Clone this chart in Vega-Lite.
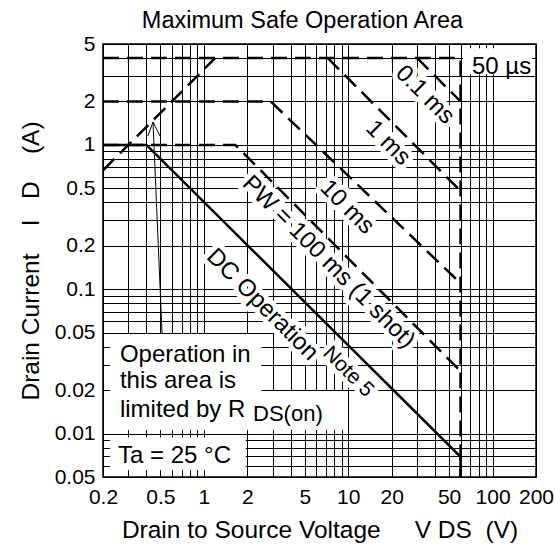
{
  "$schema": "https://vega.github.io/schema/vega-lite/v6.json",
  "width": 433,
  "height": 433,
  "autosize": {"type": "none"},
  "padding": {"left": 103, "top": 44, "right": 19, "bottom": 77},
  "background": "white",
  "config": {
    "view": {"stroke": "black", "strokeWidth": 1.5},
    "font": "Liberation Sans",
    "text": {"font": "Liberation Sans", "color": "black"}
  },
  "title": {
    "text": "Maximum Safe Operation Area",
    "font": "Liberation Sans",
    "fontSize": 23.5,
    "fontWeight": "normal",
    "color": "black",
    "anchor": "middle",
    "frame": "group",
    "dx": -17,
    "dy": 32,
    "offset": 9,
    "baseline": "bottom"
  },
  "datasets": {
    "curves": [
      {"s": "rds", "o": 1, "v": 0.2, "i": 0.667},
      {"s": "rds", "o": 2, "v": 1.2, "i": 4},
      {"s": "us50", "o": 1, "v": 0.2, "i": 4},
      {"s": "us50", "o": 2, "v": 60, "i": 4},
      {"s": "us50", "o": 3, "v": 60, "i": 0.005},
      {"s": "ms01", "o": 1, "v": 30, "i": 4},
      {"s": "ms01", "o": 2, "v": 60, "i": 2},
      {"s": "ms1", "o": 1, "v": 7.2, "i": 4},
      {"s": "ms1", "o": 2, "v": 60, "i": 0.48},
      {"s": "ms10", "o": 1, "v": 0.2, "i": 2},
      {"s": "ms10", "o": 2, "v": 2.9, "i": 2},
      {"s": "ms10", "o": 3, "v": 60, "i": 0.11},
      {"s": "ms100", "o": 1, "v": 0.2, "i": 1},
      {"s": "ms100", "o": 2, "v": 1.65, "i": 1},
      {"s": "ms100", "o": 3, "v": 60, "i": 0.027},
      {"s": "dc", "o": 1, "v": 0.2, "i": 1},
      {"s": "dc", "o": 2, "v": 0.4, "i": 1},
      {"s": "dc", "o": 3, "v": 60, "i": 0.0069},
      {"s": "dc", "o": 4, "v": 60, "i": 0.005},
      {"s": "arrow", "o": 1, "v": 0.513, "i": 0.0497},
      {"s": "arrow", "o": 2, "v": 0.444, "i": 1.44},
      {"s": "arrowhead", "o": 1, "v": 0.409, "i": 1.15},
      {"s": "arrowhead", "o": 2, "v": 0.444, "i": 1.44},
      {"s": "arrowhead", "o": 3, "v": 0.497, "i": 1.15}
    ],
    "masks": [
      {"v": 0.224, "v2": 2.5, "i": 0.0106, "i2": 0.049},
      {"v": 2.5, "v2": 9.8, "i": 0.0106, "i2": 0.0197},
      {"v": 0.224, "v2": 1.95, "i": 0.0056, "i2": 0.0094},
      {"v": 62.5, "v2": 188, "i": 3.08, "i2": 4.68}
    ],
    "labels": [
      {"t": "Operation in", "v": 0.262, "i": 0.0313},
      {"t": "this area is", "v": 0.262, "i": 0.0207},
      {"t": "limited by R", "v": 0.262, "i": 0.0131},
      {"t": "DS(on)", "v": 2.19, "i": 0.0122},
      {"t": "Ta = 25 °C", "v": 0.254, "i": 0.00624},
      {"t": "50 µs", "v": 72, "i": 3.08}
    ],
    "rotlabels": [
      {"t": "0.1 ms", "v": 34, "i": 2.22},
      {"t": "1 ms", "v": 18.9, "i": 1.03},
      {"t": "10 ms", "v": 9.8, "i": 0.37},
      {"t": "PW = 100 ms (1 shot)", "v": 7.3, "i": 0.154},
      {"t": "DC Operation", "v": 2.54, "i": 0.078},
      {"t": "Note 5", "v": 10.0, "i": 0.0267}
    ]
  },
  "encoding": {
    "x": {
      "field": "v",
      "type": "quantitative",
      "scale": {"type": "log", "domain": [0.2, 200]},
      "axis": {
        "title": "Drain to Source Voltage\u00a0\u00a0\u00a0\u00a0\u00a0V\u00a0DS\u00a0\u00a0(V)",
        "values": [0.2, 0.3, 0.4, 0.5, 0.6, 0.7, 0.8, 0.9, 1, 2, 3, 4, 5, 6, 7, 8, 9, 10, 20, 30, 40, 50, 60, 70, 80, 90, 100, 200],
        "labelExpr": "indexof([0.2, 0.5, 1, 2, 5, 10, 20, 50, 100, 200], datum.value) >= 0 ? format(datum.value, '') : ''",
        "grid": true,
        "gridColor": "black",
        "gridWidth": 1,
        "gridOpacity": 1,
        "ticks": false,
        "domain": false,
        "labelFont": "Liberation Sans",
        "labelFontSize": 21,
        "labelColor": "black",
        "labelPadding": 9,
        "labelOverlap": false,
        "labelFlush": false,
        "titleFont": "Liberation Sans",
        "titleFontSize": 24.5,
        "titleFontWeight": "normal",
        "titleColor": "black",
        "titlePadding": 11
      }
    },
    "y": {
      "field": "i",
      "type": "quantitative",
      "scale": {"type": "log", "domain": [0.005, 5]},
      "axis": {
        "title": "Drain Current\u00a0\u00a0\u00a0\u00a0I\u00a0\u00a0\u00a0D\u00a0\u00a0\u00a0\u00a0(A)",
        "values": [0.005, 0.006, 0.007, 0.008, 0.009, 0.01, 0.02, 0.03, 0.04, 0.05, 0.06, 0.07, 0.08, 0.09, 0.1, 0.2, 0.3, 0.4, 0.5, 0.6, 0.7, 0.8, 0.9, 1, 2, 3, 4, 5],
        "labelExpr": "datum.value == 0.005 ? '0.05' : (indexof([5, 2, 1, 0.5, 0.2, 0.1, 0.05, 0.02, 0.01], datum.value) >= 0 ? format(datum.value, '') : '')",
        "grid": true,
        "gridColor": "black",
        "gridWidth": 1,
        "gridOpacity": 1,
        "ticks": false,
        "domain": false,
        "labelFont": "Liberation Sans",
        "labelFontSize": 21,
        "labelColor": "black",
        "labelPadding": 8,
        "labelOverlap": false,
        "labelFlush": false,
        "titleFont": "Liberation Sans",
        "titleFontSize": 24.5,
        "titleFontWeight": "normal",
        "titleColor": "black",
        "titlePadding": 11
      }
    }
  },
  "layer": [
    {
      "data": {"name": "masks"},
      "mark": {"type": "rect", "fill": "white", "stroke": null},
      "encoding": {"x2": {"field": "v2"}, "y2": {"field": "i2"}}
    },
    {
      "data": {"name": "rotlabels"},
      "transform": [{"filter": {"not": {"field": "t", "equal": "Note 5"}}}],
      "mark": {"type": "text", "angle": 45, "align": "center", "baseline": "middle", "fontSize": 24, "fill": "white", "stroke": "white", "strokeWidth": 10, "strokeJoin": "round"},
      "encoding": {"text": {"field": "t"}}
    },
    {
      "data": {"name": "rotlabels"},
      "transform": [{"filter": {"field": "t", "equal": "Note 5"}}],
      "mark": {"type": "text", "angle": 45, "align": "center", "baseline": "middle", "fontSize": 21, "fill": "white", "stroke": "white", "strokeWidth": 10, "strokeJoin": "round"},
      "encoding": {"text": {"field": "t"}}
    },
    {
      "data": {"name": "curves"},
      "transform": [{"filter": {"field": "s", "oneOf": ["rds", "us50", "ms01", "ms1", "ms10", "ms100"]}}],
      "mark": {"type": "line", "color": "black", "strokeWidth": 2.5, "strokeDash": [16, 8]},
      "encoding": {"detail": {"field": "s"}, "order": {"field": "o"}}
    },
    {
      "data": {"name": "curves"},
      "transform": [{"filter": {"field": "s", "equal": "dc"}}],
      "mark": {"type": "line", "color": "black", "strokeWidth": 2.5},
      "encoding": {"detail": {"field": "s"}, "order": {"field": "o"}}
    },
    {
      "data": {"name": "curves"},
      "transform": [{"filter": {"field": "s", "oneOf": ["arrow", "arrowhead"]}}],
      "mark": {"type": "line", "color": "black", "strokeWidth": 1},
      "encoding": {"detail": {"field": "s"}, "order": {"field": "o"}}
    },
    {
      "data": {"name": "labels"},
      "transform": [{"filter": {"not": {"field": "t", "equal": "DS(on)"}}}],
      "mark": {"type": "text", "align": "left", "baseline": "alphabetic", "fontSize": 24},
      "encoding": {"text": {"field": "t"}}
    },
    {
      "data": {"name": "labels"},
      "transform": [{"filter": {"field": "t", "equal": "DS(on)"}}],
      "mark": {"type": "text", "align": "left", "baseline": "alphabetic", "fontSize": 22},
      "encoding": {"text": {"field": "t"}}
    },
    {
      "data": {"name": "rotlabels"},
      "transform": [{"filter": {"not": {"field": "t", "equal": "Note 5"}}}],
      "mark": {"type": "text", "angle": 45, "align": "center", "baseline": "middle", "fontSize": 24},
      "encoding": {"text": {"field": "t"}}
    },
    {
      "data": {"name": "rotlabels"},
      "transform": [{"filter": {"field": "t", "equal": "Note 5"}}],
      "mark": {"type": "text", "angle": 45, "align": "center", "baseline": "middle", "fontSize": 21},
      "encoding": {"text": {"field": "t"}}
    }
  ]
}
